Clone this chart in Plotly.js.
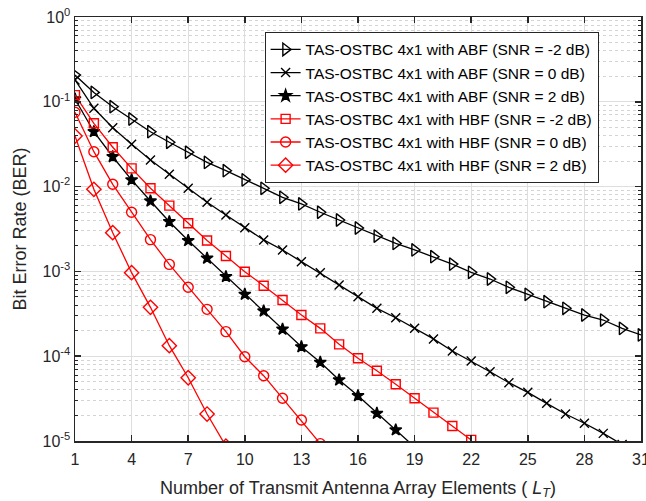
<!DOCTYPE html>
<html>
<head>
<meta charset="utf-8">
<script src="https://cdn.plot.ly/plotly-3.0.1.min.js"></script>
<style>html,body{margin:0;padding:0;background:#fff;}#chart{width:646px;height:501px;}</style>
</head>
<body>
<div id="chart"></div>
<script>
// Number of transmit antenna array elements
const elements = [1,2,3,4,5,6,7,8,9,10,11,12,13,14,15,16,17,18,19,20,21,22,23,24,25,26,27,28,29,30,31];

// BER values
const abfM2 = [0.207,0.129,0.0875,0.0627,0.0444,0.0333,0.0254,0.0193,0.0154,0.0120,0.00955,0.00748,0.00624,0.00498,0.00404,0.00325,0.00261,0.00214,0.00179,0.00149,0.00122,0.000976,0.000813,0.000649,0.000537,0.000439,0.000367,0.000306,0.000267,0.000213,0.000178];
const abf0 = [0.181,0.0838,0.0495,0.0315,0.0206,0.01397,0.00955,0.00653,0.00463,0.00328,0.00235,0.00179,0.00130,0.000962,0.000691,0.000503,0.000367,0.000284,0.000213,0.000160,0.000115,8.77e-5,6.56e-5,4.87e-5,3.75e-5,2.78e-5,2.08e-5,1.62e-5,1.23e-5,9.1e-6];
const abf2 = [0.108,0.0444,0.0225,0.0120,0.00676,0.00385,0.00231,0.00143,0.000866,0.000537,0.000341,0.000208,0.000129,8.47e-5,5.24e-5,3.42e-5,2.12e-5,1.35e-5,8.5e-6];
const hbfM2 = [0.120,0.0558,0.0291,0.0164,0.00955,0.00596,0.00369,0.00231,0.00152,0.000991,0.000678,0.000460,0.000306,0.000213,0.000138,9.44e-5,6.75e-5,4.66e-5,3.19e-5,2.16e-5,1.50e-5,1.03e-5];
const hbf0 = [0.0752,0.0258,0.01064,0.00498,0.00237,0.00121,0.000649,0.000357,0.000195,9.86e-5,5.89e-5,3.19e-5,1.77e-5,9.3e-6];
const hbf2 = [0.0395,0.00929,0.00286,0.000966,0.000377,0.000133,5.57e-5,2.08e-5,8.7e-6];

const seriesNames = [
  "TAS-OSTBC 4x1 with ABF (SNR = -2 dB)",
  "TAS-OSTBC 4x1 with ABF (SNR = 0 dB)",
  "TAS-OSTBC 4x1 with ABF (SNR = 2 dB)",
  "TAS-OSTBC 4x1 with HBF (SNR = -2 dB)",
  "TAS-OSTBC 4x1 with HBF (SNR = 0 dB)",
  "TAS-OSTBC 4x1 with HBF (SNR = 2 dB)"
];
const seriesData = [abfM2, abf0, abf2, hbfM2, hbf0, hbf2];

const xTicks = [1,4,7,10,13,16,19,22,25,28,31];
const xTickText = ["1","4","7","10","13","16","19","22","25","28","31"];
const yTickVals = [1e-5,1e-4,1e-3,1e-2,1e-1,1];
const yTickText = ["10<sup>-5</sup>","10<sup>-4</sup>","10<sup>-3</sup>","10<sup>-2</sup>","10<sup>-1</sup>","10<sup>0</sup>"];

const styles = [
  {color:"#000000", symbol:"triangle-right-open", size:11, fill:"#000000"},
  {color:"#000000", symbol:"x-thin-open", size:9, fill:"#000000"},
  {color:"#000000", symbol:"star", size:9, fill:"#000000"},
  {color:"#ff0000", symbol:"square-open", size:9, fill:"#ff0000"},
  {color:"#ff0000", symbol:"circle-open", size:10, fill:"#ff0000"},
  {color:"#ff0000", symbol:"diamond-open", size:11, fill:"#ff0000"}
];

const traces = seriesData.map((ys, i) => ({
  type: "scatter",
  mode: "lines+markers",
  name: seriesNames[i],
  x: elements.slice(0, ys.length),
  y: ys,
  line: {color: styles[i].color, width: 1.3},
  marker: {symbol: styles[i].symbol, size: styles[i].size, color: styles[i].fill,
           line: {color: styles[i].color, width: 1.4}}
}));

const axisColor = "#262626";
const layout = {
  width: 646, height: 501,
  margin: {l: 75, r: 5, t: 17, b: 60},
  paper_bgcolor: "#ffffff",
  plot_bgcolor: "#ffffff",
  font: {family: "Liberation Sans, Arial, sans-serif", size: 16, color: axisColor},
  showlegend: true,
  legend: {
    x: 0.335, y: 0.965, xanchor: "left", yanchor: "top",
    bgcolor: "#ffffff", bordercolor: axisColor, borderwidth: 1,
    font: {size: 15.5, color: "#000000"},
    tracegroupgap: 0
  },
  xaxis: {
    range: [0.9999, 31.0001],
    tickmode: "array",
    tickvals: xTicks,
    ticktext: xTickText,
    ticks: "inside", ticklen: 6, tickcolor: axisColor, tickwidth: 1.5,
    showline: true, linecolor: axisColor, linewidth: 1.5, mirror: "allticks",
    showgrid: true, gridcolor: "#dedede", gridwidth: 1,
    zeroline: false,
    tickfont: {size: 16, color: axisColor},
    ticklabelstandoff: 3,
    ticklabeloverflow: "allow",
    title: {text: "Number of Transmit Antenna Array Elements ( <i>L<sub>T</sub></i>)", font: {size: 18, color: axisColor}, standoff: 14}
  },
  yaxis: {
    type: "log",
    range: [-5, 0],
    tickvals: yTickVals,
    ticktext: yTickText,
    ticks: "inside", ticklen: 6, tickcolor: axisColor, tickwidth: 1.5,
    showline: true, linecolor: axisColor, linewidth: 1.5, mirror: "allticks",
    showgrid: true, gridcolor: "#dedede", gridwidth: 1,
    zeroline: false,
    tickfont: {size: 16, color: axisColor},
    ticklabeloverflow: "allow",
    minor: {dtick: "D1", ticks: "inside", ticklen: 3, tickcolor: axisColor, tickwidth: 1,
            showgrid: true, gridcolor: "#d4d4d4", griddash: "dot", gridwidth: 1},
    title: {text: "Bit Error Rate (BER)", font: {size: 18, color: axisColor}, standoff: 11}
  }
};

Plotly.newPlot("chart", traces, layout, {displayModeBar: false, staticPlot: true});
</script>
</body>
</html>
